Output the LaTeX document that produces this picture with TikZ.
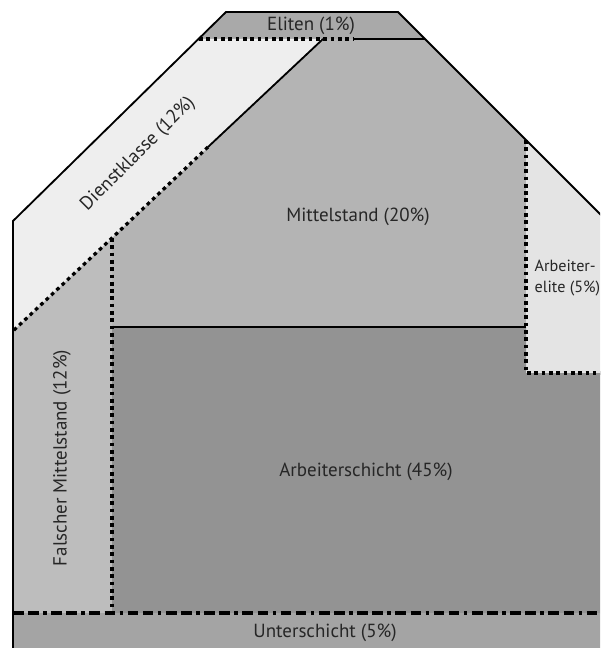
\documentclass[tikz,border=0pt]{standalone}
\usepackage{fontspec}
\setmainfont{PT Sans}
\usepackage{xcolor}
\usepackage{tikz}

\definecolor{elitengray}{HTML}{A9A9A9}
\definecolor{dienstgray}{HTML}{EEEEEE}
\definecolor{mittelgray}{HTML}{B4B4B4}
\definecolor{aelitegray}{HTML}{E4E4E4}
\definecolor{falschgray}{HTML}{BDBDBD}
\definecolor{arbeitgray}{HTML}{939393}
\definecolor{untergray}{HTML}{A4A4A4}
\definecolor{labelgray}{HTML}{262626}

\tikzset{
    border/.style={line width=1.3pt, line join=miter},
    dotline/.style={line width=2.3pt, dash pattern=on 2.6pt off 2.6pt},
    dashdotline/.style={line width=2.3pt, dash pattern=on 7.5pt off 3.2pt on 7.5pt off 3.2pt on 2.6pt off 3.2pt},
    layer/.style={font=\fontsize{13.5}{16}\selectfont, text=labelgray, inner sep=1pt}
}

\begin{document}
\begin{tikzpicture}[x=0.025cm, y=-0.025cm]
        \useasboundingbox (0,0) rectangle (600,648);
        \clip (0,0) rectangle (600,648);

        % corners
        \coordinate (topL) at (226,12);
        \coordinate (topR) at (398,12);
        \coordinate (eliL) at (199,39);
        \coordinate (eliR) at (425,39);
        \coordinate (eliM) at (353,39);
        \coordinate (dieT) at (323,39);
        \coordinate (dieM) at (208,147);
        \coordinate (falT) at (112,238);
        \coordinate (dieB) at (13,331);
        \coordinate (wallT) at (13,221);
        \coordinate (aelT) at (526,140);
        \coordinate (aelB) at (526,373);
        \coordinate (mitB) at (526,327);
        \coordinate (mitL) at (112,327);
        \coordinate (falB) at (112,613);
        \coordinate (untL) at (13,613);
        \coordinate (untR) at (700,613);

        % fills
        \fill[elitengray] (topL) -- (topR) -- (eliR) -- (eliL) -- cycle;
        \fill[dienstgray] (eliL) -- (dieT) -- (dieB) -- (wallT) -- cycle;
        \fill[mittelgray] (dieT) -- (eliR) -- (aelT) -- (mitB) -- (mitL) -- (falT) -- cycle;
        \fill[aelitegray] (aelT) -- (700,314) -- (700,373) -- (aelB) -- cycle;
        \fill[falschgray] (falT) -- (falB) -- (untL) -- (dieB) -- cycle;
        \fill[arbeitgray] (mitL) -- (mitB) -- (aelB) -- (700,373) -- (untR) -- (falB) -- cycle;
        \fill[untergray] (untL) -- (untR) -- (700,660) -- (13,660) -- cycle;

        % borders
        \draw[border] (13,660) -- (wallT) -- (topL) -- (topR) -- (700,314);
        \draw[dotline] (eliL) -- (eliM);
        \draw[border] (eliM) -- (eliR);
        \draw[border] (dieT) -- (dieM);
        \draw[dotline] (dieM) -- (falT) -- (dieB);
        \draw[dotline] (falT) -- (falB);
        \draw[border] (mitL) -- (mitB);
        \draw[dotline] (aelT) -- (aelB) -- (700,373);
        \draw[dashdotline] (untL) -- (untR);

        % labels
        \node[layer] (eliten) at (311,26) {Eliten (1\%)};
        \node[layer, rotate=45] (dienst) at (138,154) {Dienstklasse (12\%)};
        \node[layer] (mittel) at (358,217) {Mittelstand (20\%)};
        \node[layer, font=\fontsize{11.5}{15}\selectfont, anchor=north west, align=left] (aelite) at (533,258) {Arbeiter-\\elite (5\%)};
        \node[layer] (arbeit) at (366,472) {Arbeiterschicht (45\%)};
        \node[layer, rotate=90] (falsch) at (62,458) {Falscher Mittelstand (12\%)};
        \node[layer] (unter) at (325,633) {Unterschicht (5\%)};
    \end{tikzpicture}
\end{document}
